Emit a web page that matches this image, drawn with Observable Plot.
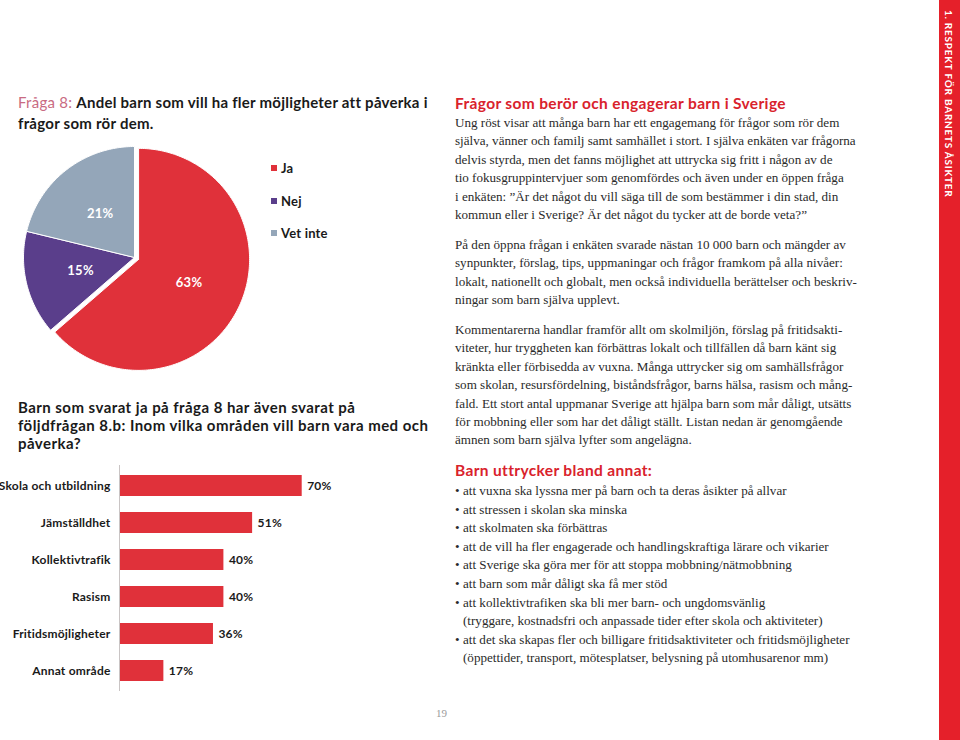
<!DOCTYPE html>
<html>
<head>
<meta charset="utf-8">
<script src="https://cdn.jsdelivr.net/npm/d3@7"></script>
<script src="https://cdn.jsdelivr.net/npm/@observablehq/plot@0.6"></script>
<style>
  html, body { margin: 0; padding: 0; background: #fff; }
  #page { position: relative; width: 960px; height: 740px; overflow: hidden; background: #fff; }
  .abs { position: absolute; white-space: nowrap; }
  .gill { font-family: Lato, "Open Sans", sans-serif; font-weight: 700; color: #1a1a1a; }
  .serif { font-family: "Liberation Serif", "DejaVu Serif", serif; font-size: 13.1px; line-height: 18.4px; color: #2a2a2a; }
  .red { color: #d9222c; }
  .legend-item { position: absolute; font-family: Lato, sans-serif; font-weight: 700; font-size: 13px; color: #1a1a1a; line-height: 16px; letter-spacing: 0.2px; }
  .legend-item span.sw { position: absolute; left: -10px; top: 5px; width: 6px; height: 6px; }
  #sidebar { position: absolute; left: 939px; top: 0; width: 21px; height: 740px; background: #e5202a; }
  #sidebar div { position: absolute; left: 4px; top: 10px; writing-mode: vertical-rl; color: #fff; font-family: Lato, sans-serif; font-weight: 700; font-size: 10px; letter-spacing: 0.75px; }
</style>
</head>
<body>
<div id="page">
  <div class="abs" style="left:18px; top:92px; font-family: Lato, sans-serif; font-size:15px; line-height:21px; color:#1a1a1a; letter-spacing:0.25px;">
    <span style="color:#c96b82;">Fråga 8:</span> <b>Andel barn som vill ha fler möjligheter att påverka i</b><br><b>frågor som rör dem.</b>
  </div>
  <div id="pie" class="abs" style="left:14px; top:137px;"></div>
  <div id="legend"></div>

  <div class="abs gill" style="left:18px; top:398px; font-size:15px; line-height:18px; letter-spacing:0.45px;">
    Barn som svarat ja på fråga 8 har även svarat på<br>följdfrågan 8.b: Inom vilka områden vill barn vara med och<br>påverka?
  </div>
  <div id="bars" class="abs" style="left:0px; top:462px;"></div>

  <div class="abs gill red" style="left:455px; top:94px; font-size:15.5px; line-height:18px; color:#d9222c; letter-spacing:0.35px;">Frågor som berör och engagerar barn i Sverige</div>
  <div class="abs serif" style="left:455px; top:114px;">
    Ung röst visar att många barn har ett engagemang för frågor som rör dem<br>
    själva, vänner och familj samt samhället i stort. I själva enkäten var frågorna<br>
    delvis styrda, men det fanns möjlighet att uttrycka sig fritt i någon av de<br>
    tio fokusgruppintervjuer som genomfördes och även under en öppen fråga<br>
    i enkäten: ”Är det något du vill säga till de som bestämmer i din stad, din<br>
    kommun eller i Sverige? Är det något du tycker att de borde veta?”
  </div>
  <div class="abs serif" style="left:455px; top:236px;">
    På den öppna frågan i enkäten svarade nästan 10 000 barn och mängder av<br>
    synpunkter, förslag, tips, uppmaningar och frågor framkom på alla nivåer:<br>
    lokalt, nationellt och globalt, men också individuella berättelser och beskriv-<br>
    ningar som barn själva upplevt.
  </div>
  <div class="abs serif" style="left:455px; top:321px;">
    Kommentarerna handlar framför allt om skolmiljön, förslag på fritidsakti-<br>
    viteter, hur tryggheten kan förbättras lokalt och tillfällen då barn känt sig<br>
    kränkta eller förbisedda av vuxna. Många uttrycker sig om samhällsfrågor<br>
    som skolan, resursfördelning, biståndsfrågor, barns hälsa, rasism och mång-<br>
    fald. Ett stort antal uppmanar Sverige att hjälpa barn som mår dåligt, utsätts<br>
    för mobbning eller som har det dåligt ställt. Listan nedan är genomgående<br>
    ämnen som barn själva lyfter som angelägna.
  </div>
  <div class="abs gill red" style="left:455px; top:461px; font-size:15.5px; line-height:18px; color:#d9222c; letter-spacing:0.35px;">Barn uttrycker bland annat:</div>
  <div id="bullets" class="abs serif" style="left:455px; top:482px; line-height:18.6px;"></div>

  <div class="abs" style="left:436px; top:707px; font-family:'Liberation Serif', serif; font-size:11px; color:#9a9a9a;">19</div>
  <div id="sidebar"><div>1. RESPEKT FÖR BARNETS ÅSIKTER</div></div>
</div>
<script>
// ---- Data ----
const pieLabels = ["Ja", "Nej", "Vet inte"];
const pieValues = [63, 15, 21];
const pieColors = ["#e0313a", "#5a3e8b", "#94a6b9"];

const barCategories = ["Skola och utbildning", "Jämställdhet", "Kollektivtrafik", "Rasism", "Fritidsmöjligheter", "Annat område"];
const barValues = [70, 51, 40, 40, 36, 17];
const barColor = "#e0313a";

const bulletItems = [
  ["att vuxna ska lyssna mer på barn och ta deras åsikter på allvar"],
  ["att stressen i skolan ska minska"],
  ["att skolmaten ska förbättras"],
  ["att de vill ha fler engagerade och handlingskraftiga lärare och vikarier"],
  ["att Sverige ska göra mer för att stoppa mobbning/nätmobbning"],
  ["att barn som mår dåligt ska få mer stöd"],
  ["att kollektivtrafiken ska bli mer barn- och ungdomsvänlig", "(tryggare, kostnadsfri och anpassade tider efter skola och aktiviteter)"],
  ["att det ska skapas fler och billigare fritidsaktiviteter och fritidsmöjligheter", "(öppettider, transport, mötesplatser, belysning på utomhusarenor mm)"]
];

// ---- Pie (drawn with Plot lines filled, in pixel-like units) ----
const R = 111;
const explode = 4.5;
const total = d3.sum(pieValues);
let cum = 0;
const slices = pieValues.map((v, i) => {
  const a0 = cum / total * 2 * Math.PI;
  cum += v;
  const a1 = cum / total * 2 * Math.PI;
  const mid = (a0 + a1) / 2;
  const off = i === 0 ? explode : 0;
  const ox = Math.sin(mid) * off, oy = -Math.cos(mid) * off;
  return {label: pieLabels[i], value: v, color: pieColors[i], a0, a1, mid, ox, oy};
});
function slicePoints(s) {
  const pts = [{x: s.ox, y: s.oy}];
  const n = Math.max(2, Math.ceil((s.a1 - s.a0) / (Math.PI / 180)));
  for (let k = 0; k <= n; k++) {
    const a = s.a0 + (s.a1 - s.a0) * k / n;
    pts.push({x: s.ox + Math.sin(a) * R, y: s.oy - Math.cos(a) * R});
  }
  pts.push({x: s.ox, y: s.oy});
  return pts;
}
const pie = Plot.plot({
  width: 240, height: 240,
  margin: 0,
  x: {domain: [-120, 120], range: [0, 240], axis: null},
  y: {domain: [-120, 120], range: [0, 240], axis: null},
  marks: [
    ...slices.map(s => Plot.line(slicePoints(s), {x: "x", y: "y", fill: s.color, stroke: "white", strokeWidth: 1, curve: "linear"})),
    Plot.text(slices, {
      x: s => s.ox + Math.sin(s.mid) * R * 0.5,
      y: s => s.oy - Math.cos(s.mid) * R * 0.5,
      text: s => s.value + "%",
      fill: "white", fontSize: 13, fontWeight: "bold"
    })
  ],
  style: {fontFamily: "Lato, sans-serif", background: "transparent", overflow: "visible", letterSpacing: "0.3px"}
});
document.getElementById("pie").appendChild(pie);

// Legend
const legend = document.getElementById("legend");
pieLabels.forEach((l, i) => {
  const d = document.createElement("div");
  d.className = "legend-item";
  d.style.left = "281px";
  d.style.top = (160 + i * 32.5) + "px";
  d.innerHTML = `<span class="sw" style="background:${pieColors[i]}"></span>${l}`;
  legend.appendChild(d);
});

// ---- Bars ----
const barData = barCategories.map((c, i) => ({category: c, value: barValues[i]}));
const bars = Plot.plot({
  width: 440, height: 232,
  marginLeft: 119, marginRight: 60, marginTop: 3, marginBottom: 3,
  x: {domain: [0, 100], axis: null},
  y: {domain: barCategories, paddingInner: 0.42, paddingOuter: 0.21},
  marks: [
    Plot.barX(barData, {x: "value", y: "category", fill: barColor}),
    Plot.ruleX([0], {stroke: "#c9c4c4", strokeWidth: 1}),
    Plot.axisY({tickSize: 0, tickPadding: 9, fontSize: 12, fontWeight: "bold", fill: "#1a1a1a", label: null}),
    Plot.text(barData, {x: "value", y: "category", text: d => d.value + "%", dx: 5, textAnchor: "start", fontSize: 12, fontWeight: "bold", fill: "#1a1a1a"})
  ],
  style: {fontFamily: "Lato, sans-serif", background: "transparent", overflow: "visible", letterSpacing: "0.2px"}
});
document.getElementById("bars").appendChild(bars);

// ---- Bullets ----
const bl = document.getElementById("bullets");
bl.innerHTML = bulletItems.map(lines =>
  lines.map((t, j) => `<div style="padding-left:8px; position:relative;">${j === 0 ? '<span style="position:absolute; left:0;">•</span>' : ''}${t}</div>`).join("")
).join("");
</script>
</body>
</html>
